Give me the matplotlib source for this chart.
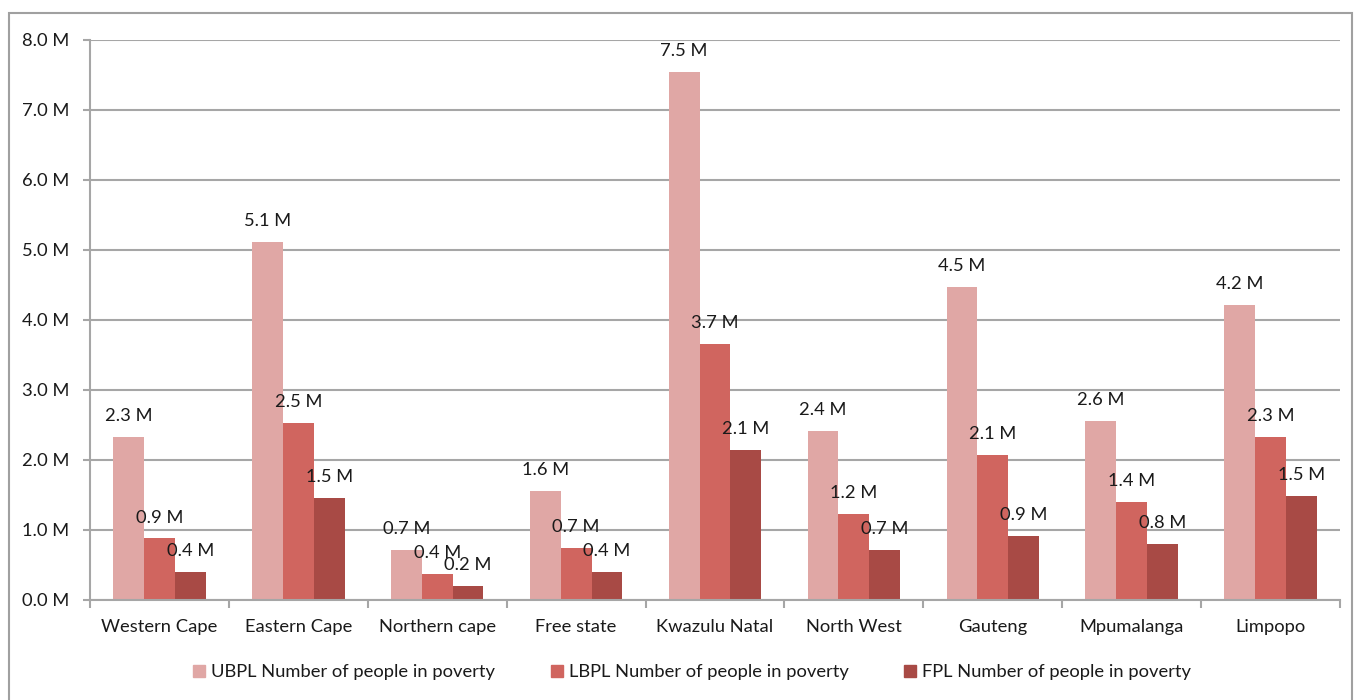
import numpy as np
import matplotlib.pyplot as plt
from matplotlib.lines import Line2D
from matplotlib.patches import Rectangle

# Provinces and people in poverty (millions) per poverty line
provinces = ["Western Cape", "Eastern Cape", "Northern cape", "Free state",
             "Kwazulu Natal", "North West", "Gauteng", "Mpumalanga", "Limpopo"]
ubpl = [2.33, 5.11, 0.71, 1.56, 7.54, 2.41, 4.47, 2.56, 4.21]
lbpl = [0.88, 2.53, 0.37, 0.74, 3.66, 1.23, 2.07, 1.40, 2.33]
fpl = [0.40, 1.46, 0.20, 0.40, 2.14, 0.71, 0.91, 0.80, 1.49]
series_names = ["UBPL Number of people in poverty",
                "LBPL Number of people in poverty",
                "FPL Number of people in poverty"]
colors = ["#E0A7A5", "#D0655F", "#A84A45"]

plt.rcParams["font.family"] = ["Lato", "DejaVu Sans"]
txt_color = "#1a1a1a"
grid_color = "#a6a6a6"
fs = 13.2

fig = plt.figure(figsize=(13.55, 7), dpi=100)
ax = fig.add_axes([90 / 1355, 100 / 700, 1250 / 1355, 560 / 700])

# outer chart border
fig.patches.append(Rectangle((9 / 1355, -0.05), 1343 / 1355, 0.05 + 1 - 13 / 700,
                             transform=fig.transFigure, fill=False,
                             edgecolor="#a0a0a0", linewidth=1.5))

x = np.arange(len(provinces))
w = 0.222
for i, (vals, c) in enumerate(zip([ubpl, lbpl, fpl], colors)):
    pos = x + (i - 1) * w
    ax.bar(pos, vals, width=w, color=c, zorder=3)
    for px, v in zip(pos, vals):
        ax.annotate(f"{v:.1f} M", (px, v), xytext=(0, 15), textcoords="offset points",
                    ha="center", va="center", fontsize=fs, color=txt_color, zorder=4)

ax.set_xlim(-0.5, len(provinces) - 0.5)
ax.set_ylim(0, 8)
ax.set_yticks(np.arange(0, 9, 1))
ax.set_yticklabels([f"{v:.1f} M" for v in range(9)])
ax.yaxis.grid(True, color=grid_color, linewidth=1.5, zorder=0)
ax.set_xticks(x)
ax.set_xticklabels(provinces)
ax.set_xticks(np.arange(-0.5, len(provinces)), minor=True)
ax.tick_params(axis="x", which="major", length=0, pad=14, labelsize=fs, labelcolor=txt_color)
ax.tick_params(axis="x", which="minor", length=6, width=1.5, color=grid_color)
ax.tick_params(axis="y", length=5, width=1.5, color=grid_color, pad=10,
               labelsize=fs, labelcolor=txt_color)
for s in ["top", "right"]:
    ax.spines[s].set_visible(False)
for s in ["left", "bottom"]:
    ax.spines[s].set_color(grid_color)
    ax.spines[s].set_linewidth(1.5)
    ax.spines[s].set_zorder(5)

handles = [Line2D([], [], linestyle="none", marker="s", markersize=9,
                  markerfacecolor=c, markeredgecolor=c) for c in colors]
fig.legend(handles, series_names, loc="center", bbox_to_anchor=(692 / 1355, 1 - 672 / 700),
           ncol=3, frameon=False, fontsize=fs, handlelength=0.7, handletextpad=0.3,
           columnspacing=3.0, labelcolor=txt_color)

fig.savefig("out.png", dpi=100)
